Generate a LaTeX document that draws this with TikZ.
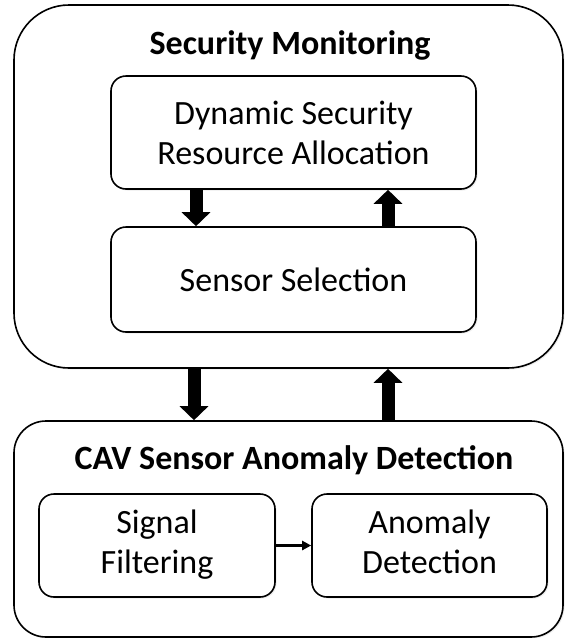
\documentclass[tikz,border=0pt]{standalone}
\usepackage{fontspec}
\setmainfont{Carlito}
\usetikzlibrary{arrows.meta, positioning, shadows}

\tikzset{
  bigbox/.style={draw, line width=1.6pt, fill=white, inner sep=0pt,
    drop shadow={opacity=0.15, shadow xshift=1.5pt, shadow yshift=-1.5pt}},
  smallbox/.style={draw, line width=1.6pt, fill=white, rounded corners=15pt,
    align=center, inner sep=0pt, font=\fontsize{34}{40}\selectfont,
    drop shadow={opacity=0.15, shadow xshift=1.5pt, shadow yshift=-1.5pt}},
  boxtitle/.style={font=\fontsize{34}{40}\selectfont\bfseries},
  fatarrow/.style={line width=13pt, -{Triangle[width=28pt, length=14pt]}},
  slimarrow/.style={line width=2.2pt, -{Triangle[width=9pt, length=9pt]}}
}

\begin{document}
\begin{tikzpicture}[x=1pt, y=-1pt, line join=round]

  \useasboundingbox (0,0) rectangle (565,638);

  % Security monitoring block
  \node[bigbox, rounded corners=55pt, minimum width=549pt, minimum height=363pt]
    (monitor) at (288.5,186.5) {};
  \node[boxtitle] (montitle) at (290,45) {Security Monitoring};
  \node[smallbox, minimum width=365pt, minimum height=113pt]
    (alloc) at (293.5,132.5) {Dynamic Security\\Resource Allocation};
  \node[smallbox, minimum width=365pt, minimum height=105pt]
    (select) at (293.5,279.5) {Sensor Selection};

  % Anomaly detection block
  \node[bigbox, rounded corners=32pt, minimum width=549pt, minimum height=216pt]
    (detect) at (288.5,529) {};
  \node[boxtitle] (dettitle) at (294,460) {CAV Sensor Anomaly Detection};
  \node[smallbox, minimum width=236pt, minimum height=103pt]
    (filter) at (157,545.5) {\strut Signal\\\strut Filtering};
  \node[smallbox, minimum width=235pt, minimum height=103pt]
    (anomaly) at (429.5,545.5) {\strut Anomaly\\\strut Detection};

  % Arrows
  \draw[fatarrow] ([xshift=-97.5pt]alloc.south) -- ([xshift=-97.5pt]select.north);
  \draw[fatarrow] ([xshift=94.5pt]select.north) -- ([xshift=94.5pt]alloc.south);
  \draw[fatarrow] ([xshift=-94.5pt]monitor.south) -- ([xshift=-94.5pt]detect.north);
  \draw[fatarrow] ([xshift=99.5pt]detect.north) -- ([xshift=99.5pt]monitor.south);
  \draw[slimarrow] (filter) -- (anomaly);

\end{tikzpicture}
\end{document}
